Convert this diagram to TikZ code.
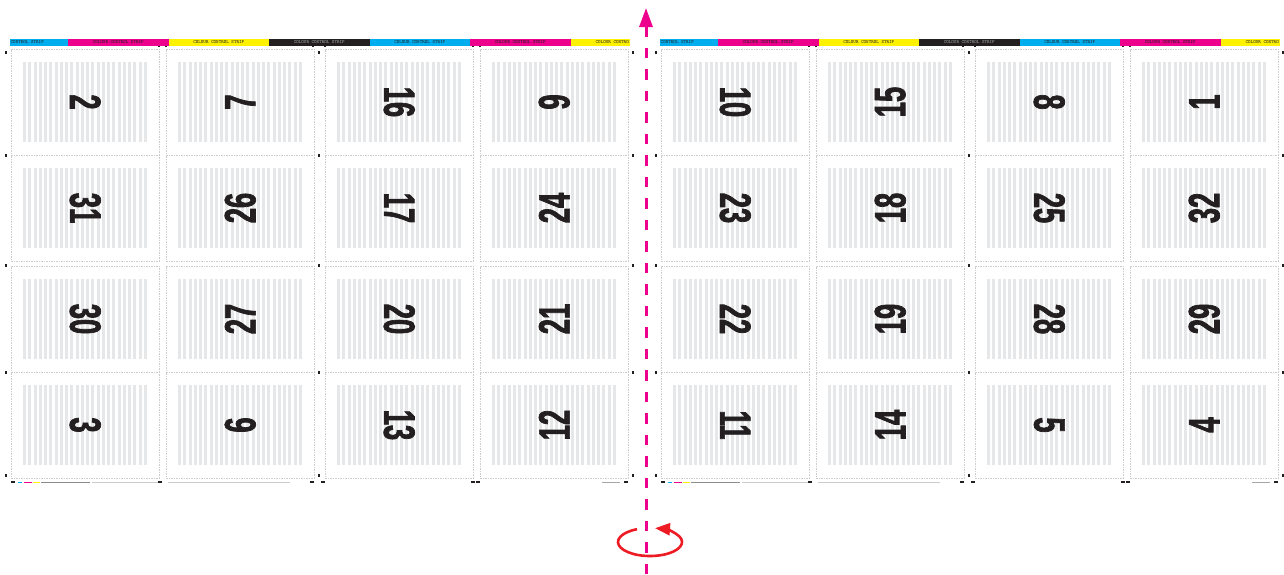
\documentclass[tikz,border=0pt]{standalone}
\usepackage{fontspec}
\newfontfamily\numfont[FakeStretch=0.62,FakeBold=1.6]{Liberation Sans}
\usetikzlibrary{arrows.meta,calc}
\definecolor{procC}{HTML}{00AEEF}
\definecolor{procM}{HTML}{EC008C}
\definecolor{procY}{HTML}{FFF200}
\definecolor{procK}{HTML}{231F20}
\definecolor{stripegray}{HTML}{E6E7E8}
\definecolor{axismag}{HTML}{EC008C}
\definecolor{turnred}{HTML}{ED1C24}
\tikzset{
  pagebox/.style={draw=black!20,dash pattern=on 1.5pt off 1pt,line width=0.5pt,minimum width=148pt,minimum height=105.5pt,inner sep=0pt,anchor=north west},
  folio/.style={font=\numfont\bfseries\fontsize{44}{44}\selectfont,text=procK,inner sep=0pt},
  striptext/.style={font=\ttfamily\fontsize{4.8}{5}\selectfont,inner sep=0pt},
  cropmark/.style={fill=procK},
  axis/.style={axismag,line width=3pt,dash pattern=on 10.5pt off 11pt},
  turn/.style={turnred,line width=2.6pt},
}

\begin{document}
\begin{tikzpicture}[x=1pt,y=-1pt]
  \useasboundingbox (0,0) rectangle (1284,574);
  % colour control strips, one per sheet
  \foreach \sx in {0,650} {
    \foreach \c/\t [count=\k from 1] in {procM/procK,procY/procK,procK/black!35,procC/procK,procM/procK} {
      \fill[\c] (\sx-32.5+\k*100.5,39) rectangle +(100.5,6.5);
      \node[striptext,text=\t] (strip\sx-\k) at (\sx+17.75+\k*100.5,42.2) {COLOUR CONTROL STRIP};
    }
    \fill[procC] (\sx+10,39) rectangle (\sx+68,45.5);
    \node[striptext,text=procK,anchor=west] (strip\sx-0) at (\sx+10.5,42.2) {CONTROL STRIP};
    \fill[procY] (\sx+570.5,39) rectangle (\sx+629.5,45.5);
    \node[striptext,text=procK,anchor=east] (strip\sx-6) at (\sx+629,42.2) {COLOUR CONTRO};
  }
  % pages: left edge / top edge / folio / rotation
  \foreach \px/\py/\num/\rot in {
    11/49/2/-90, 166/49/7/90, 325/49/16/-90, 480/49/9/90,
    11/155/31/-90, 166/155/26/90, 325/155/17/-90, 480/155/24/90,
    11/266/30/-90, 166/266/27/90, 325/266/20/-90, 480/266/21/90,
    11/372/3/-90, 166/372/6/90, 325/372/13/-90, 480/372/12/90,
    661/49/10/-90, 816/49/15/90, 975/49/8/-90, 1130/49/1/90,
    661/155/23/-90, 816/155/18/90, 975/155/25/-90, 1130/155/32/90,
    661/266/22/-90, 816/266/19/90, 975/266/28/-90, 1130/266/29/90,
    661/372/11/-90, 816/372/14/90, 975/372/5/-90, 1130/372/4/90} {
    \node[pagebox] (pg\num) at (\px,\py) {};
    \foreach \k in {0,...,23}
      \fill[stripegray] ($(pg\num.north west)+(12+\k*5.26,13)$) rectangle +(3,80);
    \node[folio,rotate=\rot] (no\num) at (pg\num.center) {\num};
  }
  % crop marks and footer
  \foreach \sx in {0,650} {
    \foreach \mx/\my in {6/52,6/155,6/265,6/372,6/475,319/52,319/155,319/265,319/372,319/475,633/52,633/155,633/265,633/372,633/475}
      \fill[cropmark] (\sx+\mx-1.2,\my-1.5) rectangle +(2.4,3);
    \foreach \mx in {159,166,313,325,473,480}
      \fill[cropmark] (\sx+\mx-0.8,45.5) rectangle +(1.6,1.6);
    \foreach \mx in {13,160,312,323,473,478,626}
      \fill[cropmark] (\sx+\mx-2,480.5) rectangle +(4,2);
    \draw[procC,line width=0.8pt] (\sx+18,482) -- (\sx+22,482);
    \draw[procM,line width=0.8pt] (\sx+24,482) -- (\sx+32,482);
    \draw[procY,line width=0.8pt] (\sx+33,482) -- (\sx+40,482);
    \draw[black!45,line width=0.6pt] (\sx+41,482) -- (\sx+90,482);
    \draw[black!20,line width=0.6pt] (\sx+92,482) -- (\sx+158,482);
    \draw[black!20,line width=0.6pt] (\sx+168,482) -- (\sx+290,482);
    \draw[black!35,line width=0.6pt] (\sx+602,482) -- (\sx+620,482);
  }
  % turning axis
  \coordinate (axishead) at (646,8);
  \coordinate (axisfoot) at (646,574);
  \draw[axis,{Triangle[length=19pt,width=13pt]}-] (axishead) -- (axisfoot);
  \coordinate (turnc) at (650,542);
  \draw[turn,-{Triangle[length=15pt,width=12pt]}] (turnc) ++(246:32 and 14)
    arc[start angle=246,end angle=-81,x radius=32,y radius=14];
\end{tikzpicture}
\end{document}
